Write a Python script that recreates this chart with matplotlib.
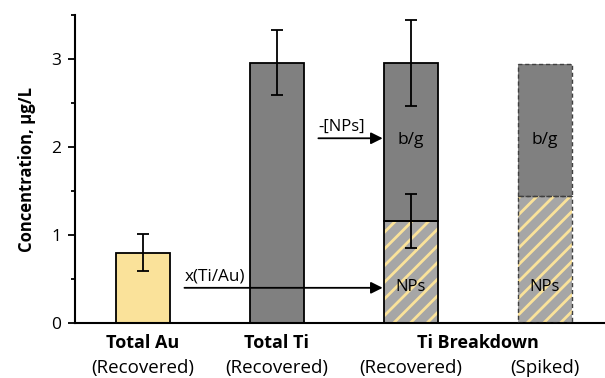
import matplotlib.pyplot as plt
import matplotlib.transforms as mtransforms
from matplotlib.ticker import MultipleLocator

plt.rcParams['font.family'] = ['Open Sans', 'DejaVu Sans']
plt.rcParams['hatch.linewidth'] = 2.0

# Values (ug/L)
groups = ["Total Au", "Total Ti", "Ti Breakdown"]
group_pos = [0, 1, 2.5]
sublabels = ["(Recovered)", "(Recovered)", "(Recovered)", "(Spiked)"]

au_total = 0.80
au_err = 0.21
ti_total = 2.96
ti_err = 0.37
rec_nps = 1.16
rec_nps_err = 0.31
rec_total = 2.96
rec_total_err = 0.49
spk_nps = 1.44
spk_total = 2.94

yellow = "#FAE29A"
dark = "#808080"
light = "#A6A6A6"
w = 0.4

fig = plt.figure(figsize=(6.05, 3.78), dpi=100)
ax = fig.add_axes([0.124, 0.1455, 0.876, 0.8145])

ekw = dict(ecolor="black", elinewidth=1.3, capsize=4.5, capthick=1.3)

# Total Au and Total Ti
ax.bar(0, au_total, w, color=yellow, edgecolor="black", linewidth=1.3,
       yerr=au_err, error_kw=ekw, zorder=2)
ax.bar(1, ti_total, w, color=dark, edgecolor="black", linewidth=1.3,
       yerr=ti_err, error_kw=ekw, zorder=2)

# Ti breakdown, recovered: hatched NPs + b/g on top
ax.bar(2, rec_nps, w, color=light, edgecolor=yellow, hatch="//", linewidth=0, zorder=2)
ax.bar(2, rec_total - rec_nps, w, bottom=rec_nps, color=dark, linewidth=0, zorder=2)
ax.bar(2, rec_nps, w, color="none", edgecolor="black", linewidth=1.3, zorder=3)
ax.bar(2, rec_total - rec_nps, w, bottom=rec_nps, color="none",
       edgecolor="black", linewidth=1.3, zorder=3)
ax.errorbar(2, rec_total, yerr=rec_total_err, fmt="none", zorder=4, **ekw)
ax.errorbar(2, rec_nps, yerr=rec_nps_err, fmt="none", zorder=4, **ekw)

# Ti breakdown, spiked (dashed outline)
ax.bar(3, spk_nps, w, color=light, edgecolor=yellow, hatch="//", linewidth=0, zorder=2)
ax.bar(3, spk_total - spk_nps, w, bottom=spk_nps, color=dark, linewidth=0, zorder=2)
ax.bar(3, spk_nps, w, color="none", edgecolor="#404040", linewidth=1.0,
       linestyle=(0, (3, 2)), zorder=3)
ax.bar(3, spk_total - spk_nps, w, bottom=spk_nps, color="none",
       edgecolor="#404040", linewidth=1.0, linestyle=(0, (3, 2)), zorder=3)

# labels inside bars
for x in [2, 3]:
    ax.text(x, 2.08, "b/g", ha="center", va="center", fontsize=12.5, zorder=5)
    ax.text(x, 0.41, "NPs", ha="center", va="center", fontsize=12, zorder=5)

# arrows (drawn over the Total Ti bar)
aprops = dict(arrowstyle="-|>,head_length=0.7,head_width=0.35", color="black",
              lw=1.3, shrinkA=0, shrinkB=0)
ax.annotate("", xy=(1.79, 0.40), xytext=(0.31, 0.40), arrowprops=aprops, zorder=4)
ax.text(0.31, 0.44, "x(Ti/Au)", ha="left", va="bottom", fontsize=12.3)
ax.annotate("", xy=(1.79, 2.1), xytext=(1.31, 2.1), arrowprops=aprops, zorder=4)
ax.text(1.31, 2.14, "-[NPs]", ha="left", va="bottom", fontsize=12)

# axes styling
ax.set_xlim(-0.507, 3.45)
ax.set_ylim(0, 3.5)
ax.spines["top"].set_visible(False)
ax.spines["right"].set_visible(False)
ax.spines["left"].set_linewidth(1.5)
ax.spines["bottom"].set_linewidth(1.5)
ax.set_yticks([0, 1, 2, 3])
ax.yaxis.set_minor_locator(MultipleLocator(0.5))
ax.tick_params(axis="y", which="major", length=5, width=1.3, labelsize=12.5, pad=5)
ax.tick_params(axis="y", which="minor", length=3, width=1.3)
ax.set_xticks([])

trans = mtransforms.blended_transform_factory(ax.transData, fig.transFigure)
for name, x in zip(groups, group_pos):
    ax.text(x, 1 - 343 / 378, name, transform=trans, ha="center", va="center",
            fontsize=13, fontweight="bold")
for i, lab in enumerate(sublabels):
    ax.text(i, 1 - 368 / 378, lab, transform=trans, ha="center", va="center",
            fontsize=13.5)

ax.set_ylabel("Concentration, µg/L", fontsize=12, fontweight="bold", labelpad=11)

fig.savefig("out.png", dpi=100)
